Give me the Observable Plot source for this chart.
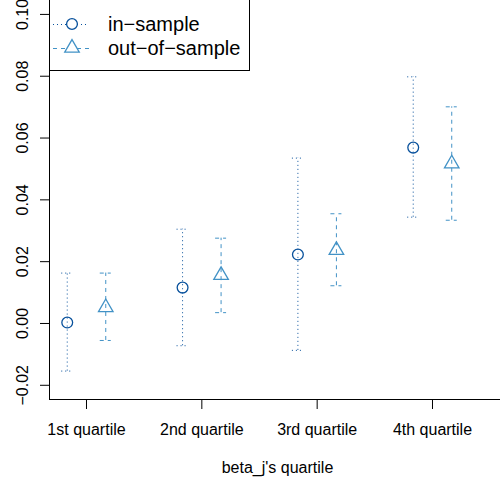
<!DOCTYPE html>
<html>
<head>
<meta charset="utf-8">
<script src="https://cdn.jsdelivr.net/npm/d3@7"></script>
<script src="https://cdn.jsdelivr.net/npm/@observablehq/plot@0.6"></script>
<style>
  html, body { margin: 0; padding: 0; background: #fff; }
  #chart { width: 500px; height: 485px; position: relative; overflow: hidden; }
</style>
</head>
<body>
<div id="chart"></div>
<script>
// ---- data ----
const quartiles = ["1st quartile", "2nd quartile", "3rd quartile", "4th quartile"];
const inMean  = [0.0003, 0.0116, 0.0223, 0.0569];
const inLow   = [-0.0154, -0.0072, -0.0087, 0.0344];
const inHigh  = [0.0163, 0.0305, 0.0535, 0.0798];
const outMean = [0.0052, 0.0156, 0.0237, 0.0517];
const outLow  = [-0.0055, 0.0035, 0.0122, 0.0334];
const outHigh = [0.0163, 0.0276, 0.0355, 0.0701];
const yTicks = [-0.02, 0, 0.02, 0.04, 0.06, 0.08, 0.10];
const seriesNames = ["in\u2212sample", "out\u2212of\u2212sample"];
const xTitle = "beta_j's quartile";

// ---- styling ----
const inColor = "#08519c";
const outColor = "#4292c6";
const font = "'Liberation Sans', Arial, Helvetica, sans-serif";
const offset = 0.167;
const capHalf = 0.0477;

const inRows = quartiles.map((q, i) => ({x: i + 1 - offset, mean: inMean[i], lo: inLow[i], hi: inHigh[i]}));
const outRows = quartiles.map((q, i) => ({x: i + 1 + offset, mean: outMean[i], lo: outLow[i], hi: outHigh[i]}));

function bars(rows, color, dash) {
  return [
    Plot.ruleX(rows, {x: "x", y1: "lo", y2: "hi", stroke: color, strokeWidth: 1, strokeDasharray: dash}),
    Plot.ruleY(rows, {y: "hi", x1: d => d.x - capHalf, x2: d => d.x + capHalf, stroke: color, strokeWidth: 1, strokeDasharray: dash}),
    Plot.ruleY(rows, {y: "lo", x1: d => d.x - capHalf, x2: d => d.x + capHalf, stroke: color, strokeWidth: 1, strokeDasharray: dash})
  ];
}

const yDomain = [-0.0246, 0.1045];
const xDomain = [0.6792, 4.5897];

const svg = Plot.plot({
  width: 500,
  height: 485,
  marginLeft: 49,
  marginRight: 0,
  marginTop: 0,
  marginBottom: 86,
  style: {fontFamily: font, fontSize: "16px", background: "#fff", color: "#000"},
  x: {type: "linear", domain: xDomain},
  y: {domain: yDomain},
  marks: [
    Plot.axisY({ticks: yTicks, tickSize: 9, tickFormat: () => "", label: null, stroke: "#000"}),
    Plot.axisX({ticks: [1, 2, 3, 4], tickSize: 10, tickFormat: () => "", label: null, stroke: "#000"}),
    Plot.text(yTicks, {y: d => d, text: d => d3.format(".2f")(d), frameAnchor: "left", textAnchor: "middle", dx: -27, rotate: -90, fill: "#000", fontSize: 16}),
    Plot.text(quartiles, {x: (d, i) => i + 1, text: d => d, frameAnchor: "bottom", textAnchor: "middle", dy: 30, lineAnchor: "middle", fill: "#000", fontSize: 16}),
    Plot.text([xTitle], {text: d => d, frameAnchor: "bottom", textAnchor: "middle", dx: 2.5, dy: 68.5, lineAnchor: "middle", fill: "#000", fontSize: 16}),
    Plot.ruleX([xDomain[0]], {stroke: "#000", strokeWidth: 1}),
    Plot.ruleY([yDomain[0]], {stroke: "#000", strokeWidth: 1}),
    ...bars(inRows, inColor, "1 3"),
    ...bars(outRows, outColor, "4 4"),
    Plot.dot(inRows, {x: "x", y: "mean", r: 5.4, symbol: "circle", stroke: inColor, fill: "none", strokeWidth: 1.3}),
    Plot.dot(outRows, {x: "x", y: "mean", r: 5.4, symbol: "triangle", stroke: outColor, fill: "none", strokeWidth: 1.3})
  ]
});

// ---- legend (inside plot, top-left) ----
const g = d3.select(svg).append("g").attr("font-family", font).attr("text-anchor", "start");
g.append("rect").attr("x", 49.5).attr("y", -2).attr("width", 200).attr("height", 72.5)
  .attr("fill", "#fff").attr("stroke", "#000").attr("stroke-width", 1);
const legendRows = [
  {name: seriesNames[0], color: inColor, dash: "1 3", sym: d3.symbolCircle, y: 24},
  {name: seriesNames[1], color: outColor, dash: "4 4", sym: d3.symbolTriangle, y: 48}
];
legendRows.forEach(r => {
  g.append("line").attr("x1", 53).attr("x2", 89).attr("y1", r.y + 0.5).attr("y2", r.y + 0.5)
    .attr("stroke", r.color).attr("stroke-width", 1).attr("stroke-dasharray", r.dash);
  g.append("path").attr("transform", `translate(72,${r.y})`)
    .attr("d", d3.symbol(r.sym, 5.4 * 5.4 * Math.PI)())
    .attr("fill", "#fff").attr("stroke", r.color).attr("stroke-width", 1.3);
  g.append("text").attr("x", 108).attr("y", r.y + 7.3).attr("font-size", 20)
    .attr("text-anchor", "start").attr("fill", "#000").text(r.name);
});

document.getElementById("chart").appendChild(svg);
</script>
</body>
</html>
